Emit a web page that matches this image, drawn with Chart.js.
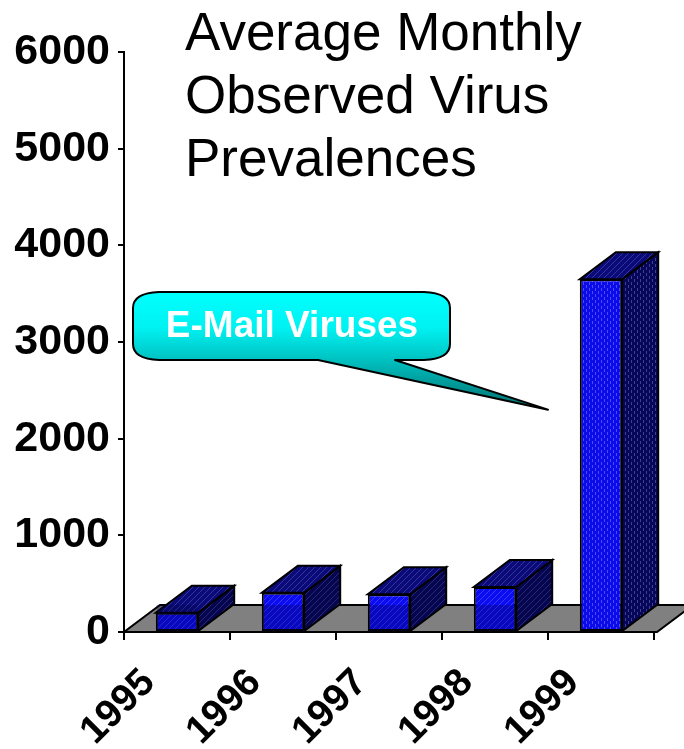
<!DOCTYPE html>
<html lang="en">
<head>
  <meta charset="UTF-8" />
  <title>Average Monthly Observed Virus Prevalences</title>
  <script src="https://cdn.jsdelivr.net/npm/chart.js"></script>
  <style>
    body { margin: 0; background: #fff; }
    #wrap { position: relative; width: 684px; height: 749px; }
  </style>
</head>
<body>
  <div id="wrap">
    <canvas id="virusChart" width="684" height="749"></canvas>
  </div>

  <script>
    // data
    const years = ['1995', '1996', '1997', '1998', '1999'];
    const prevalence = [200, 405, 390, 465, 3650];
    const yMax = 6000;
    const yStep = 1000;
    const titleLines = ['Average Monthly', 'Observed Virus', 'Prevalences'];
    const calloutText = 'E-Mail Viruses';
    const calloutTipValue = 2300;   // where the bubble's tail points
    const calloutTipAfter = 3;      // tail sits on the boundary after this category

    const FONT = 'Arial, "Liberation Sans", sans-serif';
    const DEPTH_X = 36, DEPTH_Y = -27;

    // striped fills for the faces of the boxes
    function stripes(base, line, dir) {
      const c = document.createElement('canvas');
      c.width = 6; c.height = 6;
      const g = c.getContext('2d');
      g.fillStyle = base;
      g.fillRect(0, 0, 6, 6);
      g.strokeStyle = line;
      g.lineWidth = 1;
      g.beginPath();
      if (dir === 'v') {
        g.moveTo(1.5, 0); g.lineTo(1.5, 3);
        g.moveTo(4.5, 3); g.lineTo(4.5, 6);
      } else {
        g.moveTo(0, 6); g.lineTo(6, 0);
        g.moveTo(-3, 3); g.lineTo(3, -3);
        g.moveTo(3, 9); g.lineTo(9, 3);
      }
      g.stroke();
      return g.createPattern(c, 'repeat');
    }

    const ctx0 = document.getElementById('virusChart').getContext('2d');
    const frontFill = stripes('#0c0cf0', '#3a3aff', 'd');
    const frontTall = stripes('#0c0ce8', '#4a4aff', 'v');
    const topFill = stripes('#0a0a78', '#34349c', 'd');
    const sideFill = stripes('#06064e', '#26267a', 'd');
    const sideTall = stripes('#06065a', '#40408c', 'v');

    const boxes3d = {
      id: 'boxes3d',
      beforeDatasetsDraw(chart) {
        const { ctx, chartArea: a } = chart;
        // floor
        ctx.save();
        ctx.fillStyle = '#808080';
        ctx.strokeStyle = '#000';
        ctx.lineWidth = 2;
        ctx.lineJoin = 'miter';
        ctx.beginPath();
        ctx.moveTo(a.left, a.bottom);
        ctx.lineTo(a.right + 3, a.bottom);
        ctx.lineTo(a.right + 3 + DEPTH_X, a.bottom + DEPTH_Y);
        ctx.lineTo(a.left + DEPTH_X, a.bottom + DEPTH_Y);
        ctx.closePath();
        ctx.fill();
        ctx.stroke();

        // top and side faces
        const meta = chart.getDatasetMeta(0);
        meta.data.forEach((bar, i) => {
          const tall = prevalence[i] > 2000;
          const l = bar.x - bar.width / 2, r = bar.x + bar.width / 2;
          const t = bar.y, b = bar.base;
          ctx.beginPath();
          ctx.moveTo(r, t);
          ctx.lineTo(r + DEPTH_X, t + DEPTH_Y);
          ctx.lineTo(r + DEPTH_X, b + DEPTH_Y);
          ctx.lineTo(r, b);
          ctx.closePath();
          ctx.fillStyle = tall ? sideTall : sideFill;
          ctx.fill();
          ctx.stroke();
          ctx.beginPath();
          ctx.moveTo(l, t);
          ctx.lineTo(r, t);
          ctx.lineTo(r + DEPTH_X, t + DEPTH_Y);
          ctx.lineTo(l + DEPTH_X, t + DEPTH_Y);
          ctx.closePath();
          ctx.fillStyle = topFill;
          ctx.fill();
          ctx.stroke();
        });
        ctx.restore();
      },
      afterDatasetsDraw(chart) {
        const { ctx, chartArea: a } = chart;
        const meta = chart.getDatasetMeta(0);
        ctx.save();
        // front faces look darker where they sit against the floor
        meta.data.forEach((bar, i) => {
          if (prevalence[i] > 2000) return;
          const l = bar.x - bar.width / 2 + 1;
          ctx.fillStyle = 'rgba(0,0,70,0.28)';
          ctx.fillRect(l, a.bottom + DEPTH_Y, bar.width - 2, -DEPTH_Y - 1);
        });
        // front edge of the floor
        ctx.strokeStyle = '#000';
        ctx.lineWidth = 2;
        ctx.beginPath();
        ctx.moveTo(a.left, a.bottom);
        ctx.lineTo(a.right + 3, a.bottom);
        ctx.stroke();
        ctx.restore();
      }
    };

    const annotations = {
      id: 'annotations',
      afterDraw(chart) {
        const { ctx, scales } = chart;
        ctx.save();

        // title
        ctx.fillStyle = '#000';
        ctx.font = '53px ' + FONT;
        ctx.textAlign = 'left';
        ctx.textBaseline = 'alphabetic';
        titleLines.forEach((line, i) => ctx.fillText(line, 185, 50 + i * 63));

        // callout bubble
        const tipX = (scales.x.getPixelForValue(calloutTipAfter) + scales.x.getPixelForValue(calloutTipAfter + 1)) / 2;
        const tipY = scales.y.getPixelForValue(calloutTipValue);
        const L = 133, R = 450, T = 292, B = 360;
        const grad = ctx.createLinearGradient(0, T, 0, tipY);
        grad.addColorStop(0, '#00ffff');
        grad.addColorStop(0.3, '#00f2f2');
        grad.addColorStop(0.55, '#00c6c6');
        grad.addColorStop(1, '#006e6e');
        ctx.beginPath();
        ctx.moveTo(L + 26, T);
        ctx.lineTo(R - 26, T);
        ctx.quadraticCurveTo(R, T + 1, R, T + 16);
        ctx.lineTo(R, B - 16);
        ctx.quadraticCurveTo(R, B - 1, R - 26, B);
        ctx.lineTo(395, B);
        ctx.lineTo(tipX, tipY);
        ctx.lineTo(318, B);
        ctx.lineTo(L + 26, B);
        ctx.quadraticCurveTo(L, B - 1, L, B - 16);
        ctx.lineTo(L, T + 16);
        ctx.quadraticCurveTo(L, T + 1, L + 26, T);
        ctx.closePath();
        ctx.fillStyle = grad;
        ctx.fill();
        ctx.strokeStyle = '#000';
        ctx.lineWidth = 2;
        ctx.lineJoin = 'round';
        ctx.stroke();

        ctx.fillStyle = '#fff';
        ctx.font = 'bold 37px ' + FONT;
        ctx.textAlign = 'center';
        ctx.textBaseline = 'middle';
        ctx.fillText(calloutText, 292, 327);
        ctx.restore();
      }
    };

    new Chart(ctx0, {
      type: 'bar',
      data: {
        labels: years,
        datasets: [{
          data: prevalence,
          backgroundColor: prevalence.map(v => v > 2000 ? frontTall : frontFill),
          borderColor: '#000',
          borderWidth: 2,
          borderSkipped: false,
          barPercentage: 0.4,
          categoryPercentage: 1
        }]
      },
      options: {
        responsive: false,
        animation: false,
        devicePixelRatio: 1,
        layout: { padding: { top: 52, right: 30, left: 0, bottom: 0 } },
        plugins: {
          legend: { display: false },
          tooltip: { enabled: false },
          title: { display: false }
        },
        scales: {
          x: {
            grid: { drawOnChartArea: false, color: '#000', lineWidth: 2, tickLength: 8, offset: true },
            border: { color: '#000', width: 2 },
            ticks: {
              color: '#000',
              font: { family: FONT, size: 39, weight: 'bold' },
              minRotation: 45,
              maxRotation: 45,
              autoSkip: false,
              padding: 20,
              labelOffset: -28
            },
            afterFit(s) { s.height = 117; }
          },
          y: {
            min: 0,
            max: yMax,
            grid: { drawOnChartArea: false, color: '#000', lineWidth: 2, tickLength: 6 },
            border: { color: '#000', width: 2 },
            ticks: {
              stepSize: yStep,
              color: '#000',
              font: { family: FONT, size: 43, weight: 'bold' },
              padding: 8,
              callback: v => String(v)
            },
            afterFit(s) { s.width = 124; }
          }
        }
      },
      plugins: [boxes3d, annotations]
    });
  </script>
</body>
</html>
